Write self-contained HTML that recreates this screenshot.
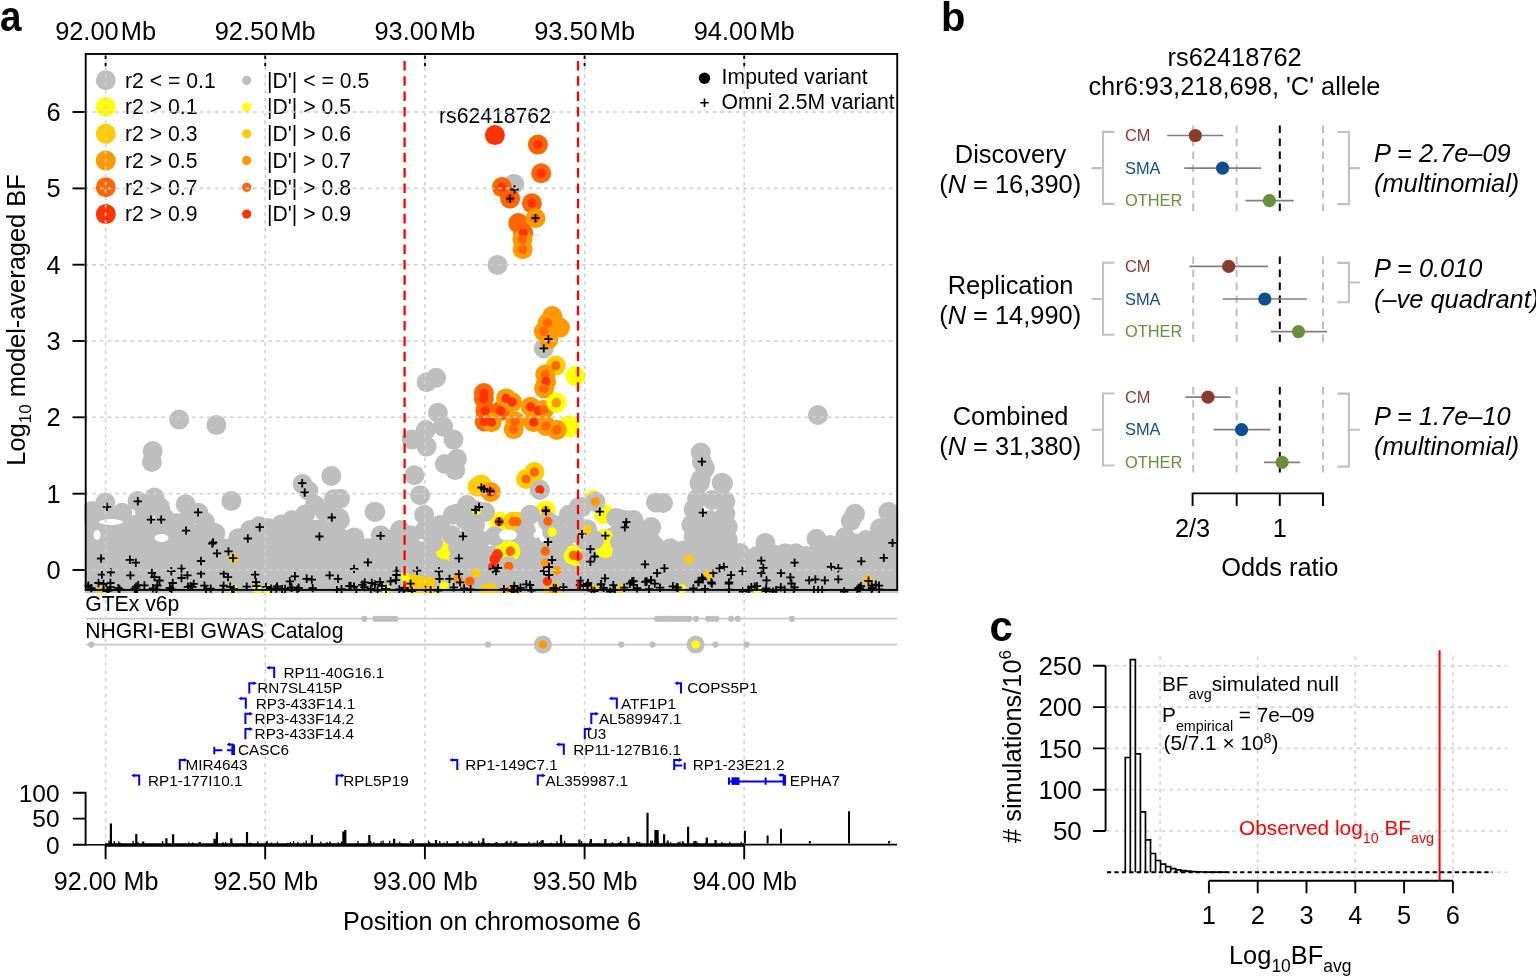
<!DOCTYPE html>
<html><head><meta charset="utf-8"><title>Figure</title>
<style>
html,body{margin:0;padding:0;background:#fff;}
svg{display:block;}
text{font-family:"Liberation Sans", Arial, Helvetica, sans-serif;fill:#000;}
</style></head><body>
<svg width="1536" height="977" viewBox="0 0 1536 977">
<rect width="1536" height="977" fill="#fff"/>

<text x="0" y="31" font-size="42" font-weight="bold" transform="translate(0,0) scale(0.92,1)">a</text>
<text x="105.6" y="39.5" font-size="25.4" text-anchor="middle">92.00&#8202;Mb</text>
<text x="265.2" y="39.5" font-size="25.4" text-anchor="middle">92.50&#8202;Mb</text>
<text x="424.9" y="39.5" font-size="25.4" text-anchor="middle">93.00&#8202;Mb</text>
<text x="584.6" y="39.5" font-size="25.4" text-anchor="middle">93.50&#8202;Mb</text>
<text x="744.2" y="39.5" font-size="25.4" text-anchor="middle">94.00&#8202;Mb</text>
<text transform="translate(25,320) rotate(-90)" font-size="25.4" text-anchor="middle">Log<tspan font-size="17" dy="6">10</tspan><tspan dy="-6"> model-averaged BF</tspan></text>
<line x1="72.5" y1="570.0" x2="86" y2="570.0" stroke="#000" stroke-width="1.9"/>
<text x="60.5" y="579.0" font-size="25.4" text-anchor="end">0</text>
<line x1="72.5" y1="493.7" x2="86" y2="493.7" stroke="#000" stroke-width="1.9"/>
<text x="60.5" y="502.7" font-size="25.4" text-anchor="end">1</text>
<line x1="72.5" y1="417.3" x2="86" y2="417.3" stroke="#000" stroke-width="1.9"/>
<text x="60.5" y="426.3" font-size="25.4" text-anchor="end">2</text>
<line x1="72.5" y1="341.0" x2="86" y2="341.0" stroke="#000" stroke-width="1.9"/>
<text x="60.5" y="350.0" font-size="25.4" text-anchor="end">3</text>
<line x1="72.5" y1="264.7" x2="86" y2="264.7" stroke="#000" stroke-width="1.9"/>
<text x="60.5" y="273.7" font-size="25.4" text-anchor="end">4</text>
<line x1="72.5" y1="188.4" x2="86" y2="188.4" stroke="#000" stroke-width="1.9"/>
<text x="60.5" y="197.4" font-size="25.4" text-anchor="end">5</text>
<line x1="72.5" y1="112.0" x2="86" y2="112.0" stroke="#000" stroke-width="1.9"/>
<text x="60.5" y="121.0" font-size="25.4" text-anchor="end">6</text>
<defs><clipPath id="pc"><rect x="84.5" y="55" width="813.8" height="538"/></clipPath></defs>
<g clip-path="url(#pc)">
<polygon points="86,514 100,518 120,518 140,514 160,522 176,526 190,522 200,527 215,537 240,541 260,530 280,527 300,520 320,520 340,524 355,539 380,538 410,538 433,545 452,538 470,538 480,546 500,546 530,541 545,546 560,541 580,546 600,532 620,523 640,526 655,531 670,549 690,546 700,512 725,512 730,541 740,555 765,548 790,558 816,543 835,548 850,532 870,537 888,518 897,518 899,595 84,595" fill="#bebebe"/>
<circle cx="444.8" cy="549.5" r="10.0" fill="#ffff00"/>
<circle cx="454.2" cy="553.0" r="10.0" fill="#ffff00"/>
<circle cx="604.1" cy="538.9" r="10.0" fill="#ffff00"/>
<circle cx="605.3" cy="548.3" r="10.0" fill="#ffff00"/>
<circle cx="579.4" cy="534.2" r="10.0" fill="#ffff00"/>
<circle cx="573.5" cy="555.3" r="10.0" fill="#ffff00"/>
<circle cx="604.1" cy="514.1" r="10.0" fill="#ffff00"/>
<circle cx="499.1" cy="521.7" r="10.0" fill="#ffff00"/>
<circle cx="513.0" cy="521.7" r="10.0" fill="#ffcc00"/>
<circle cx="516.8" cy="521.7" r="10.0" fill="#ffcc00"/>
<circle cx="545.8" cy="510.4" r="10.0" fill="#ffff00"/>
<circle cx="578.0" cy="556.6" r="10.0" fill="#ffff00"/>
<circle cx="593.0" cy="500.0" r="10.0" fill="#ffff00"/>
<circle cx="999.0" cy="999.0" r="10.0" fill="#ffff00"/>
<circle cx="497.0" cy="536.0" r="10.0" fill="#ffff00"/>
<circle cx="505.0" cy="545.0" r="10.0" fill="#ffff00"/>
<circle cx="152.7" cy="451.0" r="10.0" fill="#bebebe"/>
<circle cx="151.9" cy="462.0" r="10.0" fill="#bebebe"/>
<circle cx="179.2" cy="419.6" r="10.0" fill="#bebebe"/>
<circle cx="216.4" cy="425.1" r="10.0" fill="#bebebe"/>
<circle cx="331.3" cy="475.9" r="10.0" fill="#bebebe"/>
<circle cx="302.5" cy="484.0" r="10.0" fill="#bebebe"/>
<circle cx="308.4" cy="490.8" r="10.0" fill="#bebebe"/>
<circle cx="333.8" cy="499.2" r="10.0" fill="#bebebe"/>
<circle cx="231.4" cy="500.9" r="10.0" fill="#bebebe"/>
<circle cx="154.4" cy="497.5" r="10.0" fill="#bebebe"/>
<circle cx="137.5" cy="501.0" r="10.0" fill="#bebebe"/>
<circle cx="105.3" cy="502.6" r="10.0" fill="#bebebe"/>
<circle cx="91.8" cy="511.0" r="10.0" fill="#bebebe"/>
<circle cx="122.2" cy="512.8" r="10.0" fill="#bebebe"/>
<circle cx="185.7" cy="504.3" r="10.0" fill="#bebebe"/>
<circle cx="198.4" cy="512.8" r="10.0" fill="#bebebe"/>
<circle cx="164.6" cy="517.9" r="10.0" fill="#bebebe"/>
<circle cx="176.4" cy="523.0" r="10.0" fill="#bebebe"/>
<circle cx="215.3" cy="533.1" r="10.0" fill="#bebebe"/>
<circle cx="238.2" cy="538.2" r="10.0" fill="#bebebe"/>
<circle cx="259.3" cy="526.3" r="10.0" fill="#bebebe"/>
<circle cx="281.3" cy="524.6" r="10.0" fill="#bebebe"/>
<circle cx="305.0" cy="514.5" r="10.0" fill="#bebebe"/>
<circle cx="338.9" cy="517.9" r="10.0" fill="#bebebe"/>
<circle cx="89.0" cy="516.0" r="10.0" fill="#bebebe"/>
<circle cx="96.0" cy="528.0" r="10.0" fill="#bebebe"/>
<circle cx="106.0" cy="513.0" r="10.0" fill="#bebebe"/>
<circle cx="145.0" cy="512.0" r="10.0" fill="#bebebe"/>
<circle cx="160.0" cy="507.0" r="10.0" fill="#bebebe"/>
<circle cx="190.0" cy="515.0" r="10.0" fill="#bebebe"/>
<circle cx="205.0" cy="522.0" r="10.0" fill="#bebebe"/>
<circle cx="250.0" cy="530.0" r="10.0" fill="#bebebe"/>
<circle cx="268.0" cy="528.0" r="10.0" fill="#bebebe"/>
<circle cx="292.0" cy="520.0" r="10.0" fill="#bebebe"/>
<circle cx="315.0" cy="505.0" r="10.0" fill="#bebebe"/>
<circle cx="325.0" cy="512.0" r="10.0" fill="#bebebe"/>
<circle cx="320.0" cy="530.0" r="10.0" fill="#bebebe"/>
<circle cx="290.0" cy="535.0" r="10.0" fill="#bebebe"/>
<circle cx="270.0" cy="540.0" r="10.0" fill="#bebebe"/>
<circle cx="130.0" cy="530.0" r="10.0" fill="#bebebe"/>
<circle cx="150.0" cy="535.0" r="10.0" fill="#bebebe"/>
<circle cx="170.0" cy="532.0" r="10.0" fill="#bebebe"/>
<circle cx="185.0" cy="530.0" r="10.0" fill="#bebebe"/>
<circle cx="200.0" cy="535.0" r="10.0" fill="#bebebe"/>
<circle cx="245.0" cy="545.0" r="10.0" fill="#bebebe"/>
<circle cx="100.0" cy="540.0" r="10.0" fill="#bebebe"/>
<circle cx="115.0" cy="537.0" r="10.0" fill="#bebebe"/>
<circle cx="340.0" cy="520.0" r="10.0" fill="#bebebe"/>
<circle cx="330.0" cy="535.0" r="10.0" fill="#bebebe"/>
<circle cx="310.0" cy="540.0" r="10.0" fill="#bebebe"/>
<circle cx="296.0" cy="545.0" r="10.0" fill="#bebebe"/>
<circle cx="340.0" cy="498.8" r="10.0" fill="#bebebe"/>
<circle cx="374.7" cy="511.8" r="10.0" fill="#bebebe"/>
<circle cx="354.4" cy="537.4" r="10.0" fill="#bebebe"/>
<circle cx="395.8" cy="537.4" r="10.0" fill="#bebebe"/>
<circle cx="425.0" cy="530.0" r="10.0" fill="#bebebe"/>
<circle cx="440.0" cy="528.0" r="10.0" fill="#bebebe"/>
<circle cx="472.0" cy="524.0" r="10.0" fill="#bebebe"/>
<circle cx="380.6" cy="535.3" r="10.0" fill="#bebebe"/>
<circle cx="410.6" cy="535.3" r="10.0" fill="#bebebe"/>
<circle cx="433.0" cy="542.4" r="10.0" fill="#bebebe"/>
<circle cx="451.9" cy="535.3" r="10.0" fill="#bebebe"/>
<circle cx="420.1" cy="495.3" r="10.0" fill="#bebebe"/>
<circle cx="424.2" cy="514.7" r="10.0" fill="#bebebe"/>
<circle cx="453.0" cy="514.7" r="10.0" fill="#bebebe"/>
<circle cx="375.2" cy="511.9" r="10.0" fill="#bebebe"/>
<circle cx="414.4" cy="475.3" r="10.0" fill="#bebebe"/>
<circle cx="395.0" cy="540.0" r="10.0" fill="#bebebe"/>
<circle cx="440.0" cy="525.0" r="10.0" fill="#bebebe"/>
<circle cx="465.0" cy="520.0" r="10.0" fill="#bebebe"/>
<circle cx="470.0" cy="535.0" r="10.0" fill="#bebebe"/>
<circle cx="345.0" cy="540.0" r="10.0" fill="#bebebe"/>
<circle cx="400.0" cy="530.0" r="10.0" fill="#bebebe"/>
<circle cx="436.1" cy="377.8" r="10.0" fill="#bebebe"/>
<circle cx="426.6" cy="382.2" r="10.0" fill="#bebebe"/>
<circle cx="437.9" cy="412.7" r="10.0" fill="#bebebe"/>
<circle cx="443.1" cy="426.6" r="10.0" fill="#bebebe"/>
<circle cx="425.7" cy="430.0" r="10.0" fill="#bebebe"/>
<circle cx="453.5" cy="439.6" r="10.0" fill="#bebebe"/>
<circle cx="411.8" cy="439.6" r="10.0" fill="#bebebe"/>
<circle cx="426.6" cy="446.6" r="10.0" fill="#bebebe"/>
<circle cx="457.0" cy="458.8" r="10.0" fill="#bebebe"/>
<circle cx="444.8" cy="464.0" r="10.0" fill="#bebebe"/>
<circle cx="455.3" cy="470.1" r="10.0" fill="#bebebe"/>
<circle cx="457.1" cy="513.6" r="10.0" fill="#bebebe"/>
<circle cx="467.0" cy="505.0" r="10.0" fill="#bebebe"/>
<circle cx="485.0" cy="512.0" r="10.0" fill="#bebebe"/>
<circle cx="494.8" cy="536.2" r="10.0" fill="#bebebe"/>
<circle cx="530.2" cy="514.7" r="10.0" fill="#bebebe"/>
<circle cx="525.9" cy="530.8" r="10.0" fill="#bebebe"/>
<circle cx="531.3" cy="543.7" r="10.0" fill="#bebebe"/>
<circle cx="568.9" cy="514.7" r="10.0" fill="#bebebe"/>
<circle cx="578.6" cy="507.2" r="10.0" fill="#bebebe"/>
<circle cx="567.8" cy="535.1" r="10.0" fill="#bebebe"/>
<circle cx="539.8" cy="489.7" r="10.0" fill="#bebebe"/>
<circle cx="555.0" cy="525.0" r="10.0" fill="#bebebe"/>
<circle cx="558.0" cy="545.0" r="10.0" fill="#bebebe"/>
<circle cx="515.0" cy="540.0" r="10.0" fill="#bebebe"/>
<circle cx="480.0" cy="540.0" r="10.0" fill="#bebebe"/>
<circle cx="475.0" cy="525.0" r="10.0" fill="#bebebe"/>
<circle cx="520.0" cy="555.0" r="10.0" fill="#bebebe"/>
<circle cx="540.0" cy="560.0" r="10.0" fill="#bebebe"/>
<circle cx="497.5" cy="264.9" r="10.0" fill="#bebebe"/>
<circle cx="514.2" cy="183.9" r="10.0" fill="#bebebe"/>
<circle cx="543.8" cy="348.4" r="10.0" fill="#bebebe"/>
<circle cx="574.0" cy="520.0" r="10.0" fill="#bebebe"/>
<circle cx="585.0" cy="540.0" r="10.0" fill="#bebebe"/>
<circle cx="595.3" cy="501.8" r="10.0" fill="#bebebe"/>
<circle cx="581.8" cy="507.1" r="10.0" fill="#bebebe"/>
<circle cx="619.4" cy="518.9" r="10.0" fill="#bebebe"/>
<circle cx="633.6" cy="520.0" r="10.0" fill="#bebebe"/>
<circle cx="651.2" cy="527.1" r="10.0" fill="#bebebe"/>
<circle cx="670.1" cy="548.3" r="10.0" fill="#bebebe"/>
<circle cx="683.0" cy="550.6" r="10.0" fill="#bebebe"/>
<circle cx="655.9" cy="502.4" r="10.0" fill="#bebebe"/>
<circle cx="663.0" cy="503.0" r="10.0" fill="#bebebe"/>
<circle cx="625.8" cy="520.0" r="10.0" fill="#bebebe"/>
<circle cx="648.8" cy="530.4" r="10.0" fill="#bebebe"/>
<circle cx="652.9" cy="545.0" r="10.0" fill="#bebebe"/>
<circle cx="640.0" cy="535.0" r="10.0" fill="#bebebe"/>
<circle cx="700.8" cy="452.5" r="10.0" fill="#bebebe"/>
<circle cx="705.0" cy="468.1" r="10.0" fill="#bebebe"/>
<circle cx="700.8" cy="479.2" r="10.0" fill="#bebebe"/>
<circle cx="721.7" cy="482.7" r="10.0" fill="#bebebe"/>
<circle cx="699.5" cy="483.5" r="10.0" fill="#bebebe"/>
<circle cx="723.0" cy="483.5" r="10.0" fill="#bebebe"/>
<circle cx="697.1" cy="498.8" r="10.0" fill="#bebebe"/>
<circle cx="725.4" cy="501.2" r="10.0" fill="#bebebe"/>
<circle cx="693.6" cy="509.4" r="10.0" fill="#bebebe"/>
<circle cx="725.4" cy="514.1" r="10.0" fill="#bebebe"/>
<circle cx="691.3" cy="524.7" r="10.0" fill="#bebebe"/>
<circle cx="727.8" cy="527.1" r="10.0" fill="#bebebe"/>
<circle cx="693.6" cy="536.5" r="10.0" fill="#bebebe"/>
<circle cx="712.0" cy="500.0" r="10.0" fill="#bebebe"/>
<circle cx="710.0" cy="520.0" r="10.0" fill="#bebebe"/>
<circle cx="712.0" cy="540.0" r="10.0" fill="#bebebe"/>
<circle cx="701.9" cy="461.7" r="10.0" fill="#bebebe"/>
<circle cx="740.0" cy="553.0" r="10.0" fill="#bebebe"/>
<circle cx="765.4" cy="542.9" r="10.0" fill="#bebebe"/>
<circle cx="785.2" cy="553.3" r="10.0" fill="#bebebe"/>
<circle cx="795.6" cy="553.3" r="10.0" fill="#bebebe"/>
<circle cx="816.5" cy="538.8" r="10.0" fill="#bebebe"/>
<circle cx="855.0" cy="513.8" r="10.0" fill="#bebebe"/>
<circle cx="850.8" cy="521.0" r="10.0" fill="#bebebe"/>
<circle cx="888.3" cy="511.7" r="10.0" fill="#bebebe"/>
<circle cx="880.0" cy="528.3" r="10.0" fill="#bebebe"/>
<circle cx="817.9" cy="415.0" r="10.0" fill="#bebebe"/>
<circle cx="830.0" cy="545.0" r="10.0" fill="#bebebe"/>
<circle cx="845.0" cy="537.0" r="10.0" fill="#bebebe"/>
<circle cx="866.0" cy="540.0" r="10.0" fill="#bebebe"/>
<circle cx="870.0" cy="548.0" r="10.0" fill="#bebebe"/>
<circle cx="895.0" cy="520.0" r="10.0" fill="#bebebe"/>
<circle cx="892.0" cy="535.0" r="10.0" fill="#bebebe"/>
<circle cx="752.0" cy="560.0" r="10.0" fill="#bebebe"/>
<circle cx="757.0" cy="556.0" r="10.0" fill="#bebebe"/>
<circle cx="776.0" cy="555.0" r="10.0" fill="#bebebe"/>
<circle cx="806.0" cy="556.0" r="10.0" fill="#bebebe"/>
<circle cx="840.0" cy="550.0" r="10.0" fill="#bebebe"/>
<circle cx="860.0" cy="548.0" r="10.0" fill="#bebebe"/>
<circle cx="728.0" cy="540.0" r="10.0" fill="#bebebe"/>
<circle cx="458.0" cy="547.0" r="10.0" fill="#bebebe"/>
<circle cx="467.0" cy="558.0" r="10.0" fill="#bebebe"/>
<circle cx="620.0" cy="542.0" r="10.0" fill="#bebebe"/>
<circle cx="622.0" cy="553.0" r="10.0" fill="#bebebe"/>
<circle cx="594.0" cy="540.0" r="10.0" fill="#bebebe"/>
<circle cx="588.0" cy="559.0" r="10.0" fill="#bebebe"/>
<circle cx="616.0" cy="518.0" r="10.0" fill="#bebebe"/>
<circle cx="522.0" cy="552.0" r="10.0" fill="#bebebe"/>
<circle cx="494.9" cy="135.1" r="10.0" fill="#ff3300"/>
<circle cx="537.9" cy="144.6" r="10.0" fill="#ff6600"/>
<circle cx="541.2" cy="173.2" r="10.0" fill="#ff6600"/>
<circle cx="501.9" cy="187.1" r="10.0" fill="#ff6600"/>
<circle cx="510.1" cy="198.6" r="10.0" fill="#ff6600"/>
<circle cx="531.9" cy="203.2" r="10.0" fill="#ff6600"/>
<circle cx="518.3" cy="223.1" r="10.0" fill="#ff6600"/>
<circle cx="535.5" cy="218.2" r="10.0" fill="#ff9900"/>
<circle cx="523.2" cy="233.0" r="10.0" fill="#ff6600"/>
<circle cx="522.4" cy="239.5" r="10.0" fill="#ff9900"/>
<circle cx="522.7" cy="249.3" r="10.0" fill="#ff9900"/>
<circle cx="552.2" cy="316.1" r="10.0" fill="#ff9900"/>
<circle cx="559.9" cy="327.6" r="10.0" fill="#ff9900"/>
<circle cx="547.6" cy="323.0" r="10.0" fill="#ff9900"/>
<circle cx="543.8" cy="331.5" r="10.0" fill="#ff9900"/>
<circle cx="548.4" cy="339.2" r="10.0" fill="#ff9900"/>
<circle cx="555.8" cy="365.6" r="10.0" fill="#ffcc00"/>
<circle cx="575.3" cy="376.0" r="10.0" fill="#ffff00"/>
<circle cx="545.3" cy="374.5" r="10.0" fill="#ff9900"/>
<circle cx="546.1" cy="381.4" r="10.0" fill="#ff9900"/>
<circle cx="544.1" cy="388.4" r="10.0" fill="#ff9900"/>
<circle cx="556.1" cy="402.9" r="10.0" fill="#ffff00"/>
<circle cx="569.1" cy="425.2" r="10.0" fill="#ffff00"/>
<circle cx="569.0" cy="427.6" r="10.0" fill="#ffff00"/>
<circle cx="483.8" cy="393.0" r="10.0" fill="#ff6600"/>
<circle cx="483.8" cy="398.4" r="10.0" fill="#ff6600"/>
<circle cx="485.3" cy="410.7" r="10.0" fill="#ff6600"/>
<circle cx="500.7" cy="410.7" r="10.0" fill="#ff6600"/>
<circle cx="484.6" cy="421.4" r="10.0" fill="#ff6600"/>
<circle cx="491.5" cy="422.2" r="10.0" fill="#ff9900"/>
<circle cx="506.0" cy="398.4" r="10.0" fill="#ff9900"/>
<circle cx="512.2" cy="402.2" r="10.0" fill="#ff9900"/>
<circle cx="515.3" cy="421.4" r="10.0" fill="#ff9900"/>
<circle cx="513.7" cy="429.1" r="10.0" fill="#ff9900"/>
<circle cx="530.6" cy="406.8" r="10.0" fill="#ff9900"/>
<circle cx="538.3" cy="410.7" r="10.0" fill="#ff9900"/>
<circle cx="543.7" cy="409.9" r="10.0" fill="#ff9900"/>
<circle cx="533.7" cy="422.2" r="10.0" fill="#ff9900"/>
<circle cx="546.0" cy="426.0" r="10.0" fill="#ff9900"/>
<circle cx="556.7" cy="429.9" r="10.0" fill="#ff9900"/>
<circle cx="556.4" cy="402.5" r="10.0" fill="#ffff00"/>
<circle cx="534.4" cy="472.1" r="10.0" fill="#ffcc00"/>
<circle cx="526.0" cy="479.0" r="10.0" fill="#ffcc00"/>
<circle cx="539.8" cy="489.7" r="10.0" fill="#bebebe"/>
<circle cx="477.7" cy="486.7" r="10.0" fill="#ffcc00"/>
<circle cx="481.5" cy="484.5" r="10.0" fill="#ffcc00"/>
<circle cx="490.7" cy="492.0" r="10.0" fill="#ff9900"/>
<circle cx="476.5" cy="510.4" r="10.0" fill="#bebebe"/>
<circle cx="547.9" cy="521.2" r="10.0" fill="#bebebe"/>
<circle cx="552.2" cy="531.9" r="10.0" fill="#bebebe"/>
<circle cx="510.3" cy="551.2" r="10.0" fill="#ffff00"/>
<circle cx="510.3" cy="551.2" r="10.0" fill="#ffff00"/>
<circle cx="492.6" cy="566.8" r="10.0" fill="#bebebe"/>
<circle cx="508.7" cy="566.3" r="10.0" fill="#bebebe"/>
<circle cx="545.3" cy="551.2" r="10.0" fill="#bebebe"/>
<circle cx="545.3" cy="563.1" r="10.0" fill="#bebebe"/>
<circle cx="557.1" cy="570.6" r="10.0" fill="#bebebe"/>
<circle cx="547.4" cy="581.3" r="10.0" fill="#bebebe"/>
<circle cx="587.2" cy="529.2" r="10.0" fill="#bebebe"/>
<circle cx="595.3" cy="501.8" r="10.0" fill="#bebebe"/>
<circle cx="470.0" cy="581.3" r="10.0" fill="#bebebe"/>
<circle cx="476.0" cy="572.7" r="10.0" fill="#bebebe"/>
<circle cx="458.2" cy="579.2" r="10.0" fill="#bebebe"/>
<circle cx="587.1" cy="530.0" r="10.0" fill="#bebebe"/>
<circle cx="688.9" cy="559.5" r="10.0" fill="#bebebe"/>
<circle cx="708.3" cy="574.8" r="10.0" fill="#bebebe"/>
<circle cx="233.6" cy="558.5" r="10.0" fill="#bebebe"/>
<circle cx="458.9" cy="558.3" r="10.0" fill="#bebebe"/>
<circle cx="405.3" cy="577.1" r="10.0" fill="#bebebe"/>
<circle cx="413.0" cy="584.0" r="10.0" fill="#ffcc00"/>
<circle cx="421.0" cy="586.0" r="10.0" fill="#ffcc00"/>
<circle cx="429.0" cy="587.0" r="10.0" fill="#ffcc00"/>
<circle cx="444.2" cy="586.0" r="10.0" fill="#bebebe"/>
<circle cx="386.0" cy="589.0" r="10.0" fill="#bebebe"/>
<circle cx="457.7" cy="578.9" r="10.0" fill="#bebebe"/>
<circle cx="469.5" cy="581.3" r="10.0" fill="#bebebe"/>
<circle cx="620.6" cy="588.8" r="10.0" fill="#bebebe"/>
<circle cx="682.1" cy="588.8" r="10.0" fill="#bebebe"/>
<circle cx="757.1" cy="588.8" r="10.0" fill="#bebebe"/>
<circle cx="868.1" cy="580.0" r="10.0" fill="#bebebe"/>
<circle cx="101.1" cy="589.8" r="10.0" fill="#bebebe"/>
<circle cx="257.6" cy="589.0" r="10.0" fill="#bebebe"/>
<circle cx="267.8" cy="589.0" r="10.0" fill="#bebebe"/>
<circle cx="233.0" cy="589.0" r="10.0" fill="#bebebe"/>
<circle cx="489.0" cy="593.0" r="10.0" fill="#ffcc00"/>
<circle cx="512.0" cy="595.0" r="10.0" fill="#ff9900"/>
<circle cx="553.0" cy="592.0" r="10.0" fill="#ffcc00"/>
<circle cx="595.0" cy="589.0" r="10.0" fill="#bebebe"/>
<circle cx="573.5" cy="555.3" r="4.6" fill="#ff6600"/>
<circle cx="499.1" cy="521.7" r="4.6" fill="#ff3300"/>
<circle cx="513.0" cy="521.7" r="4.6" fill="#ff6600"/>
<circle cx="516.8" cy="521.7" r="4.6" fill="#ff6600"/>
<circle cx="545.8" cy="510.4" r="4.6" fill="#ff9900"/>
<circle cx="578.0" cy="556.6" r="4.6" fill="#ff6600"/>
<circle cx="537.9" cy="144.6" r="4.6" fill="#ff3300"/>
<circle cx="541.2" cy="173.2" r="4.6" fill="#ff3300"/>
<circle cx="501.9" cy="187.1" r="4.6" fill="#ff3300"/>
<circle cx="510.1" cy="198.6" r="4.6" fill="#ff3300"/>
<circle cx="531.9" cy="203.2" r="4.6" fill="#ff3300"/>
<circle cx="535.5" cy="218.2" r="4.6" fill="#ff6600"/>
<circle cx="523.2" cy="233.0" r="4.6" fill="#ff3300"/>
<circle cx="522.4" cy="239.5" r="4.6" fill="#ff6600"/>
<circle cx="522.7" cy="249.3" r="4.6" fill="#ff6600"/>
<circle cx="547.6" cy="323.0" r="4.6" fill="#ff6600"/>
<circle cx="543.8" cy="331.5" r="4.6" fill="#ff6600"/>
<circle cx="555.8" cy="365.6" r="4.6" fill="#ff6600"/>
<circle cx="545.3" cy="374.5" r="4.6" fill="#ff6600"/>
<circle cx="546.1" cy="381.4" r="4.6" fill="#ff3300"/>
<circle cx="544.1" cy="388.4" r="4.6" fill="#ff6600"/>
<circle cx="556.1" cy="402.9" r="4.6" fill="#ff9900"/>
<circle cx="483.8" cy="393.0" r="4.6" fill="#ff3300"/>
<circle cx="483.8" cy="398.4" r="4.6" fill="#ff3300"/>
<circle cx="485.3" cy="410.7" r="4.6" fill="#ff3300"/>
<circle cx="500.7" cy="410.7" r="4.6" fill="#ff3300"/>
<circle cx="484.6" cy="421.4" r="4.6" fill="#ff3300"/>
<circle cx="491.5" cy="422.2" r="4.6" fill="#ff3300"/>
<circle cx="506.0" cy="398.4" r="4.6" fill="#ff3300"/>
<circle cx="512.2" cy="402.2" r="4.6" fill="#ff3300"/>
<circle cx="515.3" cy="421.4" r="4.6" fill="#ff6600"/>
<circle cx="513.7" cy="429.1" r="4.6" fill="#ff6600"/>
<circle cx="530.6" cy="406.8" r="4.6" fill="#ff3300"/>
<circle cx="538.3" cy="410.7" r="4.6" fill="#ff3300"/>
<circle cx="543.7" cy="409.9" r="4.6" fill="#ff6600"/>
<circle cx="533.7" cy="422.2" r="4.6" fill="#ff3300"/>
<circle cx="546.0" cy="426.0" r="4.6" fill="#ff6600"/>
<circle cx="556.7" cy="429.9" r="4.6" fill="#ff6600"/>
<circle cx="556.4" cy="402.5" r="4.6" fill="#ff9900"/>
<circle cx="534.4" cy="472.1" r="4.6" fill="#ff6600"/>
<circle cx="526.0" cy="479.0" r="4.6" fill="#ff6600"/>
<circle cx="539.8" cy="489.7" r="4.6" fill="#ff3300"/>
<circle cx="490.7" cy="492.0" r="4.6" fill="#ff3300"/>
<circle cx="476.5" cy="510.4" r="4.6" fill="#ffff00"/>
<circle cx="547.9" cy="521.2" r="4.6" fill="#ff6600"/>
<circle cx="552.2" cy="531.9" r="4.6" fill="#ffff00"/>
<circle cx="510.3" cy="551.2" r="4.6" fill="#ff6600"/>
<circle cx="510.3" cy="551.2" r="4.6" fill="#ff6600"/>
<circle cx="497.4" cy="554.5" r="5.3999999999999995" fill="#ff3300"/>
<circle cx="494.8" cy="558.8" r="5.3999999999999995" fill="#ff3300"/>
<circle cx="492.6" cy="566.8" r="4.6" fill="#ff3300"/>
<circle cx="508.7" cy="566.3" r="4.6" fill="#ff6600"/>
<circle cx="545.3" cy="551.2" r="4.6" fill="#ff6600"/>
<circle cx="545.3" cy="563.1" r="4.6" fill="#ff9900"/>
<circle cx="557.1" cy="570.6" r="4.6" fill="#ff9900"/>
<circle cx="547.4" cy="581.3" r="4.6" fill="#ff3300"/>
<circle cx="587.2" cy="529.2" r="4.6" fill="#ffcc00"/>
<circle cx="595.3" cy="501.8" r="4.6" fill="#ff9900"/>
<circle cx="470.0" cy="581.3" r="4.6" fill="#ff6600"/>
<circle cx="476.0" cy="572.7" r="4.6" fill="#ffcc00"/>
<circle cx="458.2" cy="579.2" r="4.6" fill="#ff9900"/>
<circle cx="587.1" cy="530.0" r="4.6" fill="#ffcc00"/>
<circle cx="688.9" cy="559.5" r="4.6" fill="#ffcc00"/>
<circle cx="708.3" cy="574.8" r="4.6" fill="#ffcc00"/>
<circle cx="233.6" cy="558.5" r="4.6" fill="#ffcc00"/>
<circle cx="405.3" cy="577.1" r="4.6" fill="#ffff00"/>
<circle cx="444.2" cy="586.0" r="4.6" fill="#ffff00"/>
<circle cx="386.0" cy="589.0" r="4.6" fill="#ffff00"/>
<circle cx="457.7" cy="578.9" r="4.6" fill="#ff9900"/>
<circle cx="469.5" cy="581.3" r="4.6" fill="#ff6600"/>
<circle cx="620.6" cy="588.8" r="4.6" fill="#ffcc00"/>
<circle cx="682.1" cy="588.8" r="4.6" fill="#ffff00"/>
<circle cx="757.1" cy="588.8" r="4.6" fill="#ffff00"/>
<circle cx="868.1" cy="580.0" r="4.6" fill="#ffcc00"/>
<circle cx="101.1" cy="589.8" r="4.6" fill="#ffcc00"/>
<circle cx="257.6" cy="589.0" r="4.6" fill="#ffff00"/>
<circle cx="267.8" cy="589.0" r="4.6" fill="#ffff00"/>
<circle cx="233.0" cy="589.0" r="4.6" fill="#ffff00"/>
<circle cx="512.0" cy="595.0" r="4.6" fill="#ffcc00"/>
<circle cx="553.0" cy="592.0" r="4.6" fill="#ff9900"/>
<circle cx="595.0" cy="589.0" r="4.6" fill="#ffcc00"/>
<ellipse cx="97" cy="535" rx="3.5" ry="5" fill="#fff"/>
<ellipse cx="111" cy="522" rx="12" ry="3" fill="#fff"/>
<ellipse cx="161.5" cy="538" rx="7" ry="4" fill="#fff"/>
<ellipse cx="508" cy="535" rx="9" ry="5.5" fill="#fff"/>
<ellipse cx="536" cy="535" rx="2.5" ry="3" fill="#fff"/>
<path d="M102.8 506.9h8.4M107.0 502.7v8.4M133.6 501.3h8.4M137.8 497.1v8.4M146.8 519.6h8.4M151.0 515.4v8.4M157.0 519.6h8.4M161.2 515.4v8.4M193.9 512.4h8.4M198.1 508.2v8.4M181.8 530.6h8.4M186.0 526.4v8.4M208.9 542.4h8.4M213.1 538.2v8.4M208.1 543.6h8.4M212.3 539.4v8.4M212.8 553.4h8.4M217.0 549.2v8.4M224.3 551.4h8.4M228.5 547.2v8.4M228.9 558.1h8.4M233.1 553.9v8.4M196.8 561.0h8.4M201.0 556.8v8.4M243.6 538.5h8.4M247.8 534.3v8.4M255.5 527.2h8.4M259.7 523.0v8.4M298.0 483.2h8.4M302.2 479.0v8.4M300.5 492.5h8.4M304.7 488.3v8.4M327.6 517.5h8.4M331.8 513.3v8.4M315.2 536.5h8.4M319.4 532.3v8.4M96.9 558.5h8.4M101.1 554.3v8.4M125.7 559.8h8.4M129.9 555.6v8.4M131.6 562.7h8.4M135.8 558.5v8.4M196.8 573.7h8.4M201.0 569.5v8.4M97.7 574.6h8.4M101.9 570.4v8.4M106.5 572.4h8.4M110.7 568.2v8.4M126.2 575.4h8.4M130.4 571.2v8.4M147.7 572.9h8.4M151.9 568.7v8.4M150.2 577.1h8.4M154.4 572.9v8.4M155.3 580.5h8.4M159.5 576.3v8.4M167.1 571.2h8.4M171.3 567.0v8.4M177.3 568.6h8.4M181.5 564.4v8.4M177.3 578.0h8.4M181.5 573.8v8.4M183.2 575.4h8.4M187.4 571.2v8.4M168.5 583.0h8.4M172.7 578.8v8.4M219.6 573.7h8.4M223.8 569.5v8.4M223.8 577.1h8.4M228.0 572.9v8.4M250.9 574.6h8.4M255.1 570.4v8.4M251.8 582.2h8.4M256.0 578.0v8.4M290.7 576.3h8.4M294.9 572.1v8.4M285.6 581.3h8.4M289.8 577.1v8.4M302.5 578.8h8.4M306.7 574.6v8.4M307.6 579.6h8.4M311.8 575.4v8.4M325.4 575.4h8.4M329.6 571.2v8.4M333.8 578.8h8.4M338.0 574.6v8.4M84.2 585.6h8.4M88.4 581.4v8.4M94.3 583.0h8.4M98.5 578.8v8.4M99.4 583.9h8.4M103.6 579.7v8.4M106.2 583.0h8.4M110.4 578.8v8.4M272.9 586.4h8.4M277.1 582.2v8.4M376.4 535.9h8.4M380.6 531.7v8.4M458.8 536.3h8.4M463.0 532.1v8.4M363.7 562.4h8.4M367.9 558.2v8.4M349.9 568.9h8.4M354.1 564.7v8.4M392.3 570.7h8.4M396.5 566.5v8.4M412.9 570.7h8.4M417.1 566.5v8.4M434.7 571.3h8.4M438.9 567.1v8.4M454.7 558.3h8.4M458.9 554.1v8.4M454.7 574.2h8.4M458.9 570.0v8.4M455.9 582.4h8.4M460.1 578.2v8.4M435.3 578.9h8.4M439.5 574.7v8.4M445.3 578.9h8.4M449.5 574.7v8.4M406.4 583.6h8.4M410.6 579.4v8.4M346.4 586.0h8.4M350.6 581.8v8.4M360.5 582.4h8.4M364.7 578.2v8.4M367.6 583.0h8.4M371.8 578.8v8.4M375.8 581.8h8.4M380.0 577.6v8.4M386.4 581.3h8.4M390.6 577.1v8.4M391.7 580.1h8.4M395.9 575.9v8.4M392.3 575.0h8.4M396.5 570.8v8.4M510.3 189.5h8.4M514.5 185.3v8.4M505.9 198.6h8.4M510.1 194.4v8.4M531.3 218.2h8.4M535.5 214.0v8.4M544.2 339.2h8.4M548.4 335.0v8.4M539.6 348.4h8.4M543.8 344.2v8.4M477.2 487.5h8.4M481.4 483.3v8.4M479.8 489.0h8.4M484.0 484.8v8.4M485.9 491.0h8.4M490.1 486.8v8.4M471.8 510.0h8.4M476.0 505.8v8.4M474.8 507.0h8.4M479.0 502.8v8.4M494.9 521.7h8.4M499.1 517.5v8.4M541.6 510.4h8.4M545.8 506.2v8.4M541.8 511.2h8.4M546.0 507.0v8.4M471.1 509.7h8.4M475.3 505.5v8.4M543.8 542.0h8.4M548.0 537.8v8.4M488.8 569.0h8.4M493.0 564.8v8.4M491.8 571.0h8.4M496.0 566.8v8.4M493.8 568.0h8.4M498.0 563.8v8.4M539.8 571.0h8.4M544.0 566.8v8.4M544.8 567.0h8.4M549.0 562.8v8.4M547.8 560.0h8.4M552.0 555.8v8.4M544.8 575.0h8.4M549.0 570.8v8.4M575.8 585.0h8.4M580.0 580.8v8.4M583.8 583.0h8.4M588.0 578.8v8.4M697.7 461.7h8.4M701.9 457.5v8.4M698.7 512.7h8.4M702.9 508.5v8.4M595.6 511.7h8.4M599.8 507.5v8.4M622.1 522.1h8.4M626.3 517.9v8.4M620.6 527.3h8.4M624.8 523.1v8.4M601.2 535.6h8.4M605.4 531.4v8.4M577.8 534.2h8.4M582.0 530.0v8.4M586.2 549.2h8.4M590.4 545.0v8.4M590.4 556.5h8.4M594.6 552.3v8.4M586.2 561.7h8.4M590.4 557.5v8.4M640.8 564.4h8.4M645.0 560.2v8.4M660.2 568.3h8.4M664.4 564.1v8.4M652.9 573.1h8.4M657.1 568.9v8.4M719.6 566.9h8.4M723.8 562.7v8.4M715.4 568.3h8.4M719.6 564.1v8.4M709.1 573.1h8.4M713.3 568.9v8.4M726.8 575.2h8.4M731.0 571.0v8.4M738.3 571.0h8.4M742.5 566.8v8.4M757.1 560.6h8.4M761.3 556.4v8.4M759.1 567.9h8.4M763.3 563.7v8.4M757.1 573.1h8.4M761.3 568.9v8.4M762.3 580.4h8.4M766.5 576.2v8.4M790.4 562.7h8.4M794.6 558.5v8.4M776.8 573.1h8.4M781.0 568.9v8.4M786.2 577.3h8.4M790.4 573.1v8.4M787.3 583.5h8.4M791.5 579.3v8.4M826.8 566.9h8.4M831.0 562.7v8.4M834.1 568.3h8.4M838.3 564.1v8.4M834.1 579.4h8.4M838.3 575.2v8.4M811.2 579.4h8.4M815.4 575.2v8.4M805.0 580.4h8.4M809.2 576.2v8.4M820.6 580.4h8.4M824.8 576.2v8.4M857.1 561.3h8.4M861.3 557.1v8.4M879.6 557.9h8.4M883.8 553.7v8.4M888.3 542.9h8.4M892.5 538.7v8.4M864.3 580.8h8.4M868.5 576.6v8.4M867.5 585.6h8.4M871.7 581.4v8.4M600.8 578.3h8.4M605.0 574.1v8.4M583.1 585.6h8.4M587.3 581.4v8.4M596.6 584.6h8.4M600.8 580.4v8.4M627.9 581.5h8.4M632.1 577.3v8.4M642.5 581.5h8.4M646.7 577.3v8.4M646.6 580.4h8.4M650.8 576.2v8.4M694.6 581.5h8.4M698.8 577.3v8.4M698.7 579.4h8.4M702.9 575.2v8.4M707.1 582.5h8.4M711.3 578.3v8.4M724.8 582.5h8.4M729.0 578.3v8.4M576.4 580.7h8.4M580.6 576.5v8.4M583.5 584.8h8.4M587.7 580.6v8.4M597.0 584.2h8.4M601.2 580.0v8.4M629.4 581.2h8.4M633.6 577.0v8.4M625.8 583.6h8.4M630.0 579.4v8.4M641.1 581.8h8.4M645.3 577.6v8.4M647.0 580.1h8.4M651.2 575.9v8.4M650.6 583.6h8.4M654.8 579.4v8.4M697.7 577.7h8.4M701.9 573.5v8.4M694.1 582.4h8.4M698.3 578.2v8.4M707.7 583.6h8.4M711.9 579.4v8.4M724.7 583.6h8.4M728.9 579.4v8.4M620.0 587.7h8.4M624.2 583.5v8.4M655.9 587.7h8.4M660.1 583.5v8.4M673.5 587.7h8.4M677.7 583.5v8.4M345.1 586.1h8.4M349.3 581.9v8.4M609.1 585.1h8.4M613.3 580.9v8.4M516.3 587.8h8.4M520.5 583.6v8.4M130.6 588.7h8.4M134.8 584.5v8.4M114.1 588.2h8.4M118.3 584.0v8.4M140.2 585.4h8.4M144.4 581.2v8.4M426.4 590.2h8.4M430.6 586.0v8.4M183.7 586.8h8.4M187.9 582.6v8.4M590.1 591.0h8.4M594.3 586.8v8.4M549.5 588.0h8.4M553.7 583.8v8.4M871.6 584.7h8.4M875.8 580.5v8.4M776.6 587.3h8.4M780.8 583.1v8.4M200.2 585.7h8.4M204.4 581.5v8.4M332.7 590.2h8.4M336.9 586.0v8.4M229.6 589.1h8.4M233.8 584.9v8.4M599.4 587.8h8.4M603.6 583.6v8.4M525.8 585.0h8.4M530.0 580.8v8.4M131.9 586.6h8.4M136.1 582.4v8.4M632.9 588.2h8.4M637.1 584.0v8.4M337.3 589.1h8.4M341.5 584.9v8.4M449.5 587.3h8.4M453.7 583.1v8.4M724.9 589.6h8.4M729.1 585.4v8.4M280.8 589.0h8.4M285.0 584.8v8.4M507.6 590.5h8.4M511.8 586.3v8.4M672.5 587.3h8.4M676.7 583.1v8.4M874.8 585.7h8.4M879.0 581.5v8.4M421.2 589.9h8.4M425.4 585.7v8.4M206.5 588.6h8.4M210.7 584.4v8.4M115.4 589.5h8.4M119.6 585.3v8.4M700.8 589.0h8.4M705.0 584.8v8.4M790.3 587.4h8.4M794.5 583.2v8.4M644.9 589.1h8.4M649.1 584.9v8.4M551.8 588.4h8.4M556.0 584.2v8.4M761.7 591.0h8.4M765.9 586.8v8.4M466.4 589.5h8.4M470.6 585.3v8.4M132.8 589.6h8.4M137.0 585.4v8.4M606.0 591.6h8.4M610.2 587.4v8.4M747.1 587.2h8.4M751.3 583.0v8.4M395.1 589.5h8.4M399.3 585.3v8.4M102.0 588.4h8.4M106.2 584.2v8.4M219.4 585.7h8.4M223.6 581.5v8.4M131.4 590.0h8.4M135.6 585.8v8.4M188.2 586.9h8.4M192.4 582.7v8.4M399.3 590.5h8.4M403.5 586.3v8.4M148.8 588.3h8.4M153.0 584.1v8.4M527.2 590.6h8.4M531.4 586.4v8.4M745.0 590.4h8.4M749.2 586.2v8.4M308.5 588.1h8.4M312.7 583.9v8.4M373.3 590.6h8.4M377.5 586.4v8.4M856.7 586.1h8.4M860.9 581.9v8.4M226.0 586.8h8.4M230.2 582.6v8.4M272.1 588.5h8.4M276.3 584.3v8.4M559.2 587.1h8.4M563.4 582.9v8.4M87.1 588.1h8.4M91.3 583.9v8.4M381.8 589.0h8.4M386.0 584.8v8.4M853.0 589.6h8.4M857.2 585.4v8.4M499.8 589.2h8.4M504.0 585.0v8.4M629.5 584.8h8.4M633.7 580.6v8.4M809.7 590.0h8.4M813.9 585.8v8.4M789.5 590.1h8.4M793.7 585.9v8.4M400.4 588.0h8.4M404.6 583.8v8.4M167.4 589.3h8.4M171.6 585.1v8.4M134.0 585.1h8.4M138.2 580.9v8.4M252.3 586.2h8.4M256.5 582.0v8.4M358.2 584.8h8.4M362.4 580.6v8.4M84.0 586.1h8.4M88.2 581.9v8.4M165.7 587.8h8.4M169.9 583.6v8.4M104.4 590.5h8.4M108.6 586.3v8.4M579.4 586.1h8.4M583.6 581.9v8.4M287.4 587.7h8.4M291.6 583.5v8.4M377.7 585.8h8.4M381.9 581.6v8.4M768.9 591.6h8.4M773.1 587.4v8.4M459.9 588.5h8.4M464.1 584.3v8.4M153.1 585.5h8.4M157.3 581.3v8.4M360.3 587.1h8.4M364.5 582.9v8.4M752.7 586.2h8.4M756.9 582.0v8.4M102.4 591.1h8.4M106.6 586.9v8.4M510.1 586.0h8.4M514.3 581.8v8.4M522.1 584.3h8.4M526.3 580.1v8.4M510.0 591.4h8.4M514.2 587.2v8.4M780.5 589.6h8.4M784.7 585.4v8.4M294.5 587.8h8.4M298.7 583.6v8.4M218.6 590.0h8.4M222.8 585.8v8.4M513.6 590.0h8.4M517.8 585.8v8.4M349.8 586.7h8.4M354.0 582.5v8.4M738.7 591.5h8.4M742.9 587.3v8.4M771.9 590.1h8.4M776.1 585.9v8.4M744.2 589.8h8.4M748.4 585.6v8.4M266.8 588.7h8.4M271.0 584.5v8.4M370.7 584.4h8.4M374.9 580.2v8.4M106.3 587.2h8.4M110.5 583.0v8.4M293.0 589.6h8.4M297.2 585.4v8.4M855.7 588.3h8.4M859.9 584.1v8.4M840.0 591.5h8.4M844.2 587.3v8.4M854.5 587.8h8.4M858.7 583.6v8.4M261.7 586.8h8.4M265.9 582.6v8.4M242.5 586.6h8.4M246.7 582.4v8.4M587.4 590.7h8.4M591.6 586.5v8.4M762.0 588.5h8.4M766.2 584.3v8.4M610.8 590.1h8.4M615.0 585.9v8.4M152.2 589.5h8.4M156.4 585.3v8.4M818.0 590.0h8.4M822.2 585.8v8.4M689.2 588.5h8.4M693.4 584.3v8.4M227.9 590.1h8.4M232.1 585.9v8.4M352.1 590.1h8.4M356.3 585.9v8.4M867.9 588.0h8.4M872.1 583.8v8.4M407.7 591.0h8.4M411.9 586.8v8.4M668.7 586.3h8.4M672.9 582.1v8.4M186.3 586.1h8.4M190.5 581.9v8.4M814.0 590.1h8.4M818.2 585.9v8.4M201.8 590.2h8.4M206.0 586.0v8.4M874.9 589.4h8.4M879.1 585.2v8.4M366.6 588.9h8.4M370.8 584.7v8.4M189.5 583.9h8.4M193.7 579.7v8.4M867.3 589.4h8.4M871.5 585.2v8.4M508.8 590.9h8.4M513.0 586.7v8.4M433.9 590.5h8.4M438.1 586.3v8.4M750.5 586.6h8.4M754.7 582.4v8.4M287.0 587.3h8.4M291.2 583.1v8.4M277.9 589.1h8.4M282.1 584.9v8.4" stroke="#000" stroke-width="1.8" fill="none"/>
</g>
<circle cx="105.8" cy="80.3" r="10" fill="#bebebe"/>
<text x="125" y="87.6" font-size="21.2">r2 &lt; = 0.1</text>
<circle cx="246.7" cy="80.3" r="4.6" fill="#bebebe"/>
<text x="267" y="87.6" font-size="21.2">|D'| &lt; = 0.5</text>
<circle cx="105.8" cy="107.0" r="10" fill="#ffff00"/>
<text x="125" y="114.3" font-size="21.2">r2 &gt; 0.1</text>
<circle cx="246.7" cy="107.0" r="4.6" fill="#ffff00"/>
<text x="267" y="114.3" font-size="21.2">|D'| &gt; 0.5</text>
<circle cx="105.8" cy="133.8" r="10" fill="#ffcc00"/>
<text x="125" y="141.1" font-size="21.2">r2 &gt; 0.3</text>
<circle cx="246.7" cy="133.8" r="4.6" fill="#ffcc00"/>
<text x="267" y="141.1" font-size="21.2">|D'| &gt; 0.6</text>
<circle cx="105.8" cy="160.6" r="10" fill="#ff9900"/>
<text x="125" y="167.9" font-size="21.2">r2 &gt; 0.5</text>
<circle cx="246.7" cy="160.6" r="4.6" fill="#ff9900"/>
<text x="267" y="167.9" font-size="21.2">|D'| &gt; 0.7</text>
<circle cx="105.8" cy="187.3" r="10" fill="#ff6600"/>
<text x="125" y="194.6" font-size="21.2">r2 &gt; 0.7</text>
<circle cx="246.7" cy="187.3" r="4.6" fill="#ff6600"/>
<text x="267" y="194.6" font-size="21.2">|D'| &gt; 0.8</text>
<circle cx="105.8" cy="214.1" r="10" fill="#ff3300"/>
<text x="125" y="221.4" font-size="21.2">r2 &gt; 0.9</text>
<circle cx="246.7" cy="214.1" r="4.6" fill="#ff3300"/>
<text x="267" y="221.4" font-size="21.2">|D'| &gt; 0.9</text>
<circle cx="704.5" cy="78.3" r="5.7" fill="#000"/>
<text x="721.6" y="84.4" font-size="21.2">Imputed variant</text>
<path d="M700.3 102.7h8.4M704.5 98.5v8.4" stroke="#000" stroke-width="1.6"/>
<text x="721.6" y="109" font-size="21.2">Omni 2.5M variant</text>
<text x="439" y="122.8" font-size="21.2">rs62418762</text>
<g stroke="#d0d0d0" stroke-width="1.6" fill="none">
<line x1="105.6" y1="59.4" x2="105.6" y2="589" stroke-dasharray="3.5 4.15"/>
<line x1="265.2" y1="59.4" x2="265.2" y2="589" stroke-dasharray="3.5 4.15"/>
<line x1="424.9" y1="59.4" x2="424.9" y2="589" stroke-dasharray="3.5 4.15"/>
<line x1="584.6" y1="59.4" x2="584.6" y2="589" stroke-dasharray="3.5 4.15"/>
<line x1="744.2" y1="59.4" x2="744.2" y2="589" stroke-dasharray="3.5 4.15"/>
<line x1="84.54" y1="570.0" x2="894" y2="570.0" stroke-dasharray="3.7 3.96"/>
<line x1="84.54" y1="493.7" x2="894" y2="493.7" stroke-dasharray="3.7 3.96"/>
<line x1="84.54" y1="417.3" x2="894" y2="417.3" stroke-dasharray="3.7 3.96"/>
<line x1="84.54" y1="341.0" x2="894" y2="341.0" stroke-dasharray="3.7 3.96"/>
<line x1="84.54" y1="264.7" x2="894" y2="264.7" stroke-dasharray="3.7 3.96"/>
<line x1="84.54" y1="188.4" x2="894" y2="188.4" stroke-dasharray="3.7 3.96"/>
<line x1="84.54" y1="112.0" x2="894" y2="112.0" stroke-dasharray="3.7 3.96"/>
</g>
<g stroke="#000" stroke-width="1.9" stroke-dasharray="3.3 4.1" fill="none">
<line x1="105.6" y1="55.6" x2="105.6" y2="67"/>
<line x1="265.2" y1="55.6" x2="265.2" y2="67"/>
<line x1="424.9" y1="55.6" x2="424.9" y2="67"/>
<line x1="584.6" y1="55.6" x2="584.6" y2="67"/>
<line x1="744.2" y1="55.6" x2="744.2" y2="67"/>
</g>
<g stroke="#ff0000" stroke-width="2.3" stroke-dasharray="9.5 5.8" stroke-dashoffset="10.3" fill="none">
<line x1="404.6" y1="56" x2="404.6" y2="589"/>
<line x1="578.0" y1="56" x2="578.0" y2="589"/>
</g>
<rect x="85.7" y="54" width="811.5" height="535.9" fill="none" stroke="#000" stroke-width="1.9"/>
<text x="85.2" y="611" font-size="21.2">GTEx v6p</text>
<line x1="86" y1="618.6" x2="897" y2="618.6" stroke="#c8c8c8" stroke-width="1.8"/>
<text x="85.2" y="637.5" font-size="21.2">NHGRI-EBI GWAS Catalog</text>
<line x1="86" y1="644.6" x2="897" y2="644.6" stroke="#c8c8c8" stroke-width="1.8"/>
<g stroke="#d3d3d3" stroke-width="1.6" stroke-dasharray="3.6 4.2" fill="none">
<line x1="105.6" y1="592" x2="105.6" y2="843"/>
<line x1="265.2" y1="592" x2="265.2" y2="843"/>
<line x1="424.9" y1="592" x2="424.9" y2="843"/>
<line x1="584.6" y1="592" x2="584.6" y2="843"/>
<line x1="744.2" y1="592" x2="744.2" y2="843"/>
</g>
<circle cx="364.4" cy="618.8" r="3.1" fill="#bebebe"/>
<circle cx="375.5" cy="618.8" r="3.1" fill="#bebebe"/>
<circle cx="379.5" cy="618.8" r="3.1" fill="#bebebe"/>
<circle cx="383.5" cy="618.8" r="3.1" fill="#bebebe"/>
<circle cx="387.5" cy="618.8" r="3.1" fill="#bebebe"/>
<circle cx="391.5" cy="618.8" r="3.1" fill="#bebebe"/>
<circle cx="395.3" cy="618.8" r="3.1" fill="#bebebe"/>
<circle cx="657.0" cy="618.8" r="3.1" fill="#bebebe"/>
<circle cx="660.6" cy="618.8" r="3.1" fill="#bebebe"/>
<circle cx="664.2" cy="618.8" r="3.1" fill="#bebebe"/>
<circle cx="667.8" cy="618.8" r="3.1" fill="#bebebe"/>
<circle cx="671.4" cy="618.8" r="3.1" fill="#bebebe"/>
<circle cx="675.0" cy="618.8" r="3.1" fill="#bebebe"/>
<circle cx="678.6" cy="618.8" r="3.1" fill="#bebebe"/>
<circle cx="682.2" cy="618.8" r="3.1" fill="#bebebe"/>
<circle cx="685.8" cy="618.8" r="3.1" fill="#bebebe"/>
<circle cx="689.4" cy="618.8" r="3.1" fill="#bebebe"/>
<circle cx="696.0" cy="618.8" r="3.1" fill="#bebebe"/>
<circle cx="708.1" cy="618.8" r="3.1" fill="#bebebe"/>
<circle cx="712.3" cy="618.8" r="3.1" fill="#bebebe"/>
<circle cx="716.5" cy="618.8" r="3.1" fill="#bebebe"/>
<circle cx="731.0" cy="618.8" r="3.1" fill="#bebebe"/>
<circle cx="737.7" cy="618.8" r="3.1" fill="#bebebe"/>
<circle cx="791.9" cy="618.8" r="3.1" fill="#bebebe"/>
<circle cx="91.3" cy="644.6" r="3.1" fill="#bebebe"/>
<circle cx="487.9" cy="644.6" r="3.1" fill="#bebebe"/>
<circle cx="621.3" cy="644.6" r="3.1" fill="#bebebe"/>
<circle cx="652.5" cy="644.6" r="3.1" fill="#bebebe"/>
<circle cx="715.4" cy="644.6" r="3.1" fill="#bebebe"/>
<circle cx="746.7" cy="644.6" r="3.1" fill="#bebebe"/>
<circle cx="542.9" cy="644.6" r="9" fill="#bebebe"/><circle cx="542.9" cy="644.6" r="4.1" fill="#ff9900"/>
<circle cx="695.6" cy="644.6" r="9" fill="#bebebe"/><circle cx="695.6" cy="644.6" r="4.1" fill="#ffff00"/>
<g>
<path d="M269.0 667.8H274.2V678.0" stroke="#0000ff" stroke-width="2" fill="none"/><path d="M269.7 665.8L266.2 667.8L269.7 669.8Z" fill="#0000ff"/>
<text x="283.4" y="678.0" font-size="15.3">RP11-40G16.1</text>
<path d="M249.3 693.4V683.2H254.2" stroke="#0000ff" stroke-width="2" fill="none"/><path d="M253.5 681.2L257.0 683.2L253.5 685.2Z" fill="#0000ff"/>
<text x="257.3" y="693.4" font-size="15.3">RN7SL415P</text>
<path d="M677.2 683.2H681.0V693.4" stroke="#0000ff" stroke-width="2" fill="none"/><path d="M677.9 681.2L674.4 683.2L677.9 685.2Z" fill="#0000ff"/>
<text x="687.2" y="693.4" font-size="15.3">COPS5P1</text>
<path d="M241.2 698.6H245.8V708.8" stroke="#0000ff" stroke-width="2" fill="none"/><path d="M241.9 696.6L238.4 698.6L241.9 700.6Z" fill="#0000ff"/>
<text x="255.7" y="708.8" font-size="15.3">RP3-433F14.1</text>
<path d="M611.6 698.6H616.8V708.8" stroke="#0000ff" stroke-width="2" fill="none"/><path d="M612.3 696.6L608.8 698.6L612.3 700.6Z" fill="#0000ff"/>
<text x="621.0" y="708.8" font-size="15.3">ATF1P1</text>
<path d="M245.4 724.0V713.8H250.2" stroke="#0000ff" stroke-width="2" fill="none"/><path d="M249.5 711.8L253.0 713.8L249.5 715.8Z" fill="#0000ff"/>
<text x="254.6" y="724.0" font-size="15.3">RP3-433F14.2</text>
<path d="M591.3 724.0V713.8H596.2" stroke="#0000ff" stroke-width="2" fill="none"/><path d="M595.5 711.8L599.0 713.8L595.5 715.8Z" fill="#0000ff"/>
<text x="598.9" y="724.0" font-size="15.3">AL589947.1</text>
<path d="M245.4 739.3V729.1H250.2" stroke="#0000ff" stroke-width="2" fill="none"/><path d="M249.5 727.1L253.0 729.1L249.5 731.1Z" fill="#0000ff"/>
<text x="254.6" y="739.3" font-size="15.3">RP3-433F14.4</text>
<path d="M584.8 739.3V729.1H589.5" stroke="#0000ff" stroke-width="2" fill="none"/><path d="M588.8 727.1L592.3 729.1L588.8 731.1Z" fill="#0000ff"/>
<text x="586.8" y="739.3" font-size="15.3">U3</text>
<path d="M558.7 744.6H563.8V754.8" stroke="#0000ff" stroke-width="2" fill="none"/><path d="M559.4 742.6L555.9 744.6L559.4 746.6Z" fill="#0000ff"/>
<text x="573.2" y="754.8" font-size="15.3">RP11-127B16.1</text>
<path d="M179.8 770.1V759.9H184.5" stroke="#0000ff" stroke-width="2" fill="none"/><path d="M183.8 757.9L187.3 759.9L183.8 761.9Z" fill="#0000ff"/>
<text x="185.5" y="770.1" font-size="15.3">MIR4643</text>
<path d="M452.2 759.9H457.3V770.1" stroke="#0000ff" stroke-width="2" fill="none"/><path d="M452.9 757.9L449.4 759.9L452.9 761.9Z" fill="#0000ff"/>
<text x="465.2" y="770.1" font-size="15.3">RP1-149C7.1</text>
<path d="M134.0 775.4H139.2V785.6" stroke="#0000ff" stroke-width="2" fill="none"/><path d="M134.7 773.4L131.2 775.4L134.7 777.4Z" fill="#0000ff"/>
<text x="148.0" y="785.6" font-size="15.3">RP1-177I10.1</text>
<path d="M336.7 785.6V775.4H341.9" stroke="#0000ff" stroke-width="2" fill="none"/><path d="M341.2 773.4L344.7 775.4L341.2 777.4Z" fill="#0000ff"/>
<text x="343.2" y="785.6" font-size="15.3">RPL5P19</text>
<path d="M537.8 785.6V775.4H542.9" stroke="#0000ff" stroke-width="2" fill="none"/><path d="M542.2 773.4L545.7 775.4L542.2 777.4Z" fill="#0000ff"/>
<text x="545.6" y="785.6" font-size="15.3">AL359987.1</text>
<path d="M214.3 746.8V754.3M214.3 750.3H222.4M233.5 744.6V754.8M228.5 744.6H233.5M227 750.3H234" stroke="#0000ff" stroke-width="2" fill="none"/>
<rect x="231.3" y="744.5" width="3.6" height="10.5" fill="#0000ff"/>
<path d="M230 742.5L226.5 744.6L230 746.6Z" fill="#0000ff"/>
<text x="238" y="754.8" font-size="15.3">CASC6</text>
<path d="M674.2 770.1V759.9H679.5M674.2 765.5H682.3M684.7 762.6V769.6" stroke="#0000ff" stroke-width="2" fill="none"/>
<path d="M679 757.9L682.5 759.9L679 761.9Z" fill="#0000ff"/>
<text x="692.7" y="770.1" font-size="15.3">RP1-23E21.2</text>
<path d="M729 781.4H784M765.6 777.6V784.8M729 777.6V784.8" stroke="#0000ff" stroke-width="2" fill="none"/>
<rect x="731.5" y="777.3" width="8" height="7.6" fill="#0000ff"/>
<rect x="782.6" y="775.0" width="3.4" height="10.6" fill="#0000ff"/>
<path d="M780 775.0H784" stroke="#0000ff" stroke-width="2"/>
<path d="M781.5 773.0L778 775.0L781.5 777.0Z" fill="#0000ff"/>
<text x="789.8" y="785.6" font-size="15.3">EPHA7</text>
</g>
<path d="M72.9 792.7H85.6V844.8H72.9M72.9 818.6H85.6" stroke="#000" stroke-width="1.9" fill="none"/>
<text x="59.6" y="801.5" font-size="24.5" text-anchor="end">100</text>
<text x="59.6" y="827.2" font-size="24.5" text-anchor="end">50</text>
<text x="59.6" y="853.8" font-size="24.5" text-anchor="end">0</text>
<path d="M85.6 844.8H105" stroke="#000" stroke-width="1.5"/>
<path d="M105 845.0H744.5" stroke="#000" stroke-width="3.4"/>
<path d="M744.5 844.7H897" stroke="#000" stroke-width="1.7"/>
<path d="M110.9 844.0V823.5M136.3 844.0V833.9M143.2 844.0V841.4M166.4 844.0V838.2M173.1 844.0V834.2M199.8 844.0V842.0M214.5 844.0V838.7M216.9 844.0V832.3M231.3 844.0V838.2M247.0 844.0V832.0M311.9 844.0V835.0M343.4 844.0V831.5M345.3 844.0V830.0M369.3 844.0V835.0M394.1 844.0V838.7M412.8 844.0V839.2M436.0 844.0V840.0M457.4 844.0V841.0M471.5 844.0V841.5M483.3 844.0V838.2M515.4 844.0V841.5M542.6 844.0V840.0M561.0 844.0V834.7M579.4 844.0V839.5M590.9 844.0V839.0M605.3 844.0V839.0M628.5 844.0V836.8M647.5 844.0V812.8M655.5 844.0V829.9M657.6 844.0V830.0M664.1 844.0V834.2M688.1 844.0V826.7M695.6 844.0V841.0M706.8 844.0V837.4M715.6 844.0V840.0" stroke="#000" stroke-width="2.2" fill="none"/>
<path d="M744.9 843.5V830.7M767.6 843.5V835.5M781.0 843.5V828.8M809.8 843.5V841.0M849.0 843.5V811.2M889.1 843.5V841.0" stroke="#000" stroke-width="2" fill="none"/>
<path d="M257.8 844.0V841.6M342.0 844.0V841.5M505.2 844.0V842.8M114.4 844.0V840.9M271.5 844.0V842.4M741.2 844.0V841.8M639.7 844.0V841.8M513.7 844.0V842.6M511.0 844.0V840.8M439.8 844.0V841.1M534.4 844.0V842.8M589.8 844.0V841.5M298.2 844.0V842.9M658.2 844.0V841.8M564.6 844.0V840.8M561.6 844.0V840.7M358.0 844.0V841.0M389.7 844.0V840.7M666.7 844.0V842.8M192.7 844.0V842.5M722.0 844.0V841.9M505.8 844.0V842.2M429.6 844.0V842.0M329.9 844.0V841.5M478.8 844.0V840.7M541.1 844.0V840.7M652.4 844.0V840.5M534.3 844.0V842.6M655.1 844.0V840.6M683.2 844.0V841.6M561.4 844.0V842.5M636.6 844.0V841.6M287.8 844.0V842.8M650.8 844.0V840.5M162.5 844.0V841.0M367.9 844.0V842.6M293.5 844.0V841.1M662.8 844.0V842.9M498.1 844.0V842.9M564.4 844.0V842.2M668.0 844.0V840.5M428.5 844.0V840.5M303.6 844.0V842.8M488.6 844.0V842.9M231.9 844.0V842.0M495.5 844.0V842.6M133.1 844.0V840.8M306.2 844.0V840.6M678.1 844.0V842.1M399.7 844.0V841.7M516.8 844.0V841.5M462.8 844.0V841.4M706.1 844.0V841.7M381.1 844.0V841.2M257.6 844.0V842.2M729.8 844.0V841.7M455.9 844.0V843.0M370.9 844.0V841.6M118.8 844.0V841.5M509.3 844.0V842.8M506.2 844.0V841.8M539.4 844.0V842.1M557.0 844.0V841.2M120.2 844.0V842.8M537.3 844.0V840.6M266.2 844.0V841.9M484.1 844.0V842.2M338.2 844.0V842.2M341.5 844.0V841.5M297.7 844.0V842.1M598.7 844.0V842.9M469.2 844.0V841.2M303.8 844.0V842.4M618.8 844.0V842.4M225.6 844.0V841.9M551.4 844.0V842.7M311.4 844.0V842.2M637.8 844.0V841.9M651.8 844.0V842.6M320.8 844.0V841.4M670.6 844.0V841.9M249.6 844.0V842.7M443.9 844.0V842.5M620.7 844.0V840.9M223.1 844.0V842.3M621.0 844.0V841.4M620.4 844.0V842.1M188.7 844.0V842.3M612.5 844.0V842.3M327.0 844.0V842.0M373.8 844.0V842.0M693.4 844.0V842.6M109.0 844.0V840.6M667.4 844.0V840.5M383.1 844.0V840.6M697.7 844.0V842.4M581.6 844.0V840.9M529.0 844.0V841.7M290.4 844.0V842.1M251.1 844.0V842.8M481.6 844.0V842.3M622.9 844.0V842.9M682.5 844.0V841.3M695.4 844.0V840.8M680.0 844.0V841.6M114.4 844.0V841.1M215.6 844.0V842.3M528.9 844.0V841.7M370.0 844.0V840.7M496.6 844.0V842.1M267.1 844.0V840.8M410.5 844.0V841.0M330.5 844.0V842.5M447.1 844.0V841.0M215.3 844.0V841.0M694.1 844.0V841.0M631.4 844.0V843.0M507.1 844.0V840.8M137.9 844.0V842.3M277.4 844.0V841.7" stroke="#000" stroke-width="1.3" fill="none"/>
<path d="M105.6 845.0V859.2M265.2 845.0V859.2M424.9 845.0V859.2M584.6 845.0V859.2M744.2 845.0V859.2" stroke="#000" stroke-width="1.9" fill="none"/>
<text x="106.1" y="889.6" font-size="25.1" text-anchor="middle">92.00 Mb</text>
<text x="265.8" y="889.6" font-size="25.1" text-anchor="middle">92.50 Mb</text>
<text x="425.4" y="889.6" font-size="25.1" text-anchor="middle">93.00 Mb</text>
<text x="585.1" y="889.6" font-size="25.1" text-anchor="middle">93.50 Mb</text>
<text x="744.7" y="889.6" font-size="25.1" text-anchor="middle">94.00 Mb</text>
<text x="492" y="929.8" font-size="25.2" text-anchor="middle">Position on chromosome 6</text>
<text x="941" y="31.3" font-size="40" font-weight="bold">b</text>
<text x="1234.6" y="66.2" font-size="25.4" text-anchor="middle">rs62418762</text>
<text x="1234.4" y="95.4" font-size="25.4" text-anchor="middle">chr6:93,218,698, 'C' allele</text>
<text x="1010.6" y="163.4" font-size="25.4" text-anchor="middle">Discovery</text>
<text x="1010.2" y="193.1" font-size="25.4" text-anchor="middle">(<tspan font-style="italic">N</tspan> = 16,390)</text>
<path d="M1114.6 131.9H1103V203.9H1114.6M1103 168.1H1091.6" stroke="#c0c0c0" stroke-width="2.1" fill="none"/>
<line x1="1193.2" y1="125.5" x2="1193.2" y2="211.4" stroke="#c0c0c0" stroke-width="2" stroke-dasharray="7.5 5.5"/>
<line x1="1236.6" y1="125.5" x2="1236.6" y2="211.4" stroke="#c0c0c0" stroke-width="2" stroke-dasharray="7.5 5.5"/>
<line x1="1323.0" y1="125.5" x2="1323.0" y2="211.4" stroke="#c0c0c0" stroke-width="2" stroke-dasharray="7.5 5.5"/>
<line x1="1279.8" y1="125.5" x2="1279.8" y2="211.4" stroke="#000" stroke-width="2" stroke-dasharray="7.5 5.5"/>
<text x="1125" y="141.1" font-size="16.4" fill="#8b3a2b" style="fill:#8b3a2b">CM</text>
<line x1="1167.2" y1="135.5" x2="1223.3" y2="135.5" stroke="#808080" stroke-width="1.7"/>
<circle cx="1195.3" cy="135.5" r="6.6" fill="#8b3a2b"/>
<text x="1125" y="173.7" font-size="16.4" fill="#0f4d92" style="fill:#0f4d92">SMA</text>
<line x1="1184.3" y1="168.1" x2="1261.2" y2="168.1" stroke="#808080" stroke-width="1.7"/>
<circle cx="1222.6" cy="168.1" r="6.6" fill="#0f4d92"/>
<text x="1125" y="206.3" font-size="16.4" fill="#6b8e3a" style="fill:#6b8e3a">OTHER</text>
<line x1="1245.5" y1="200.7" x2="1293.7" y2="200.7" stroke="#808080" stroke-width="1.7"/>
<circle cx="1269.4" cy="200.7" r="6.6" fill="#6b8e3a"/>
<path d="M1337.3 132.0H1348.9V204.1H1337.3M1348.9 168.1H1359.9" stroke="#c0c0c0" stroke-width="2.1" fill="none"/>
<text x="1374" y="162.3" font-size="25.4" font-style="italic">P = 2.7e–09</text>
<text x="1374" y="192.4" font-size="25.4" font-style="italic">(multinomial)</text>
<text x="1010.6" y="294.3" font-size="25.4" text-anchor="middle">Replication</text>
<text x="1010.2" y="324.0" font-size="25.4" text-anchor="middle">(<tspan font-style="italic">N</tspan> = 14,990)</text>
<path d="M1114.6 262.8H1103V334.8H1114.6M1103 299.0H1091.6" stroke="#c0c0c0" stroke-width="2.1" fill="none"/>
<line x1="1193.2" y1="256.4" x2="1193.2" y2="342.3" stroke="#c0c0c0" stroke-width="2" stroke-dasharray="7.5 5.5"/>
<line x1="1236.6" y1="256.4" x2="1236.6" y2="342.3" stroke="#c0c0c0" stroke-width="2" stroke-dasharray="7.5 5.5"/>
<line x1="1323.0" y1="256.4" x2="1323.0" y2="342.3" stroke="#c0c0c0" stroke-width="2" stroke-dasharray="7.5 5.5"/>
<line x1="1279.8" y1="256.4" x2="1279.8" y2="342.3" stroke="#000" stroke-width="2" stroke-dasharray="7.5 5.5"/>
<text x="1125" y="272.0" font-size="16.4" fill="#8b3a2b" style="fill:#8b3a2b">CM</text>
<line x1="1189.4" y1="266.4" x2="1268.0" y2="266.4" stroke="#808080" stroke-width="1.7"/>
<circle cx="1228.7" cy="266.4" r="6.6" fill="#8b3a2b"/>
<text x="1125" y="304.6" font-size="16.4" fill="#0f4d92" style="fill:#0f4d92">SMA</text>
<line x1="1222.7" y1="299.0" x2="1306.9" y2="299.0" stroke="#808080" stroke-width="1.7"/>
<circle cx="1264.8" cy="299.0" r="6.6" fill="#0f4d92"/>
<text x="1125" y="337.2" font-size="16.4" fill="#6b8e3a" style="fill:#6b8e3a">OTHER</text>
<line x1="1270.8" y1="331.6" x2="1327.0" y2="331.6" stroke="#808080" stroke-width="1.7"/>
<circle cx="1298.5" cy="331.6" r="6.6" fill="#6b8e3a"/>
<path d="M1337.3 262.9H1348.9V302.2H1337.3M1348.9 282.5H1359.9" stroke="#c0c0c0" stroke-width="2.1" fill="none"/>
<text x="1374" y="277.3" font-size="25.4" font-style="italic">P = 0.010</text>
<text x="1374" y="308.2" font-size="25.4" font-style="italic">(–ve quadrant)</text>
<text x="1010.6" y="425.0" font-size="25.4" text-anchor="middle">Combined</text>
<text x="1010.2" y="454.7" font-size="25.4" text-anchor="middle">(<tspan font-style="italic">N</tspan> = 31,380)</text>
<path d="M1114.6 393.5H1103V465.5H1114.6M1103 429.7H1091.6" stroke="#c0c0c0" stroke-width="2.1" fill="none"/>
<line x1="1193.2" y1="387.1" x2="1193.2" y2="473.0" stroke="#c0c0c0" stroke-width="2" stroke-dasharray="7.5 5.5"/>
<line x1="1236.6" y1="387.1" x2="1236.6" y2="473.0" stroke="#c0c0c0" stroke-width="2" stroke-dasharray="7.5 5.5"/>
<line x1="1323.0" y1="387.1" x2="1323.0" y2="473.0" stroke="#c0c0c0" stroke-width="2" stroke-dasharray="7.5 5.5"/>
<line x1="1279.8" y1="387.1" x2="1279.8" y2="473.0" stroke="#000" stroke-width="2" stroke-dasharray="7.5 5.5"/>
<text x="1125" y="402.7" font-size="16.4" fill="#8b3a2b" style="fill:#8b3a2b">CM</text>
<line x1="1185.4" y1="397.1" x2="1230.7" y2="397.1" stroke="#808080" stroke-width="1.7"/>
<circle cx="1207.9" cy="397.1" r="6.6" fill="#8b3a2b"/>
<text x="1125" y="435.3" font-size="16.4" fill="#0f4d92" style="fill:#0f4d92">SMA</text>
<line x1="1213.5" y1="429.7" x2="1270.4" y2="429.7" stroke="#808080" stroke-width="1.7"/>
<circle cx="1241.6" cy="429.7" r="6.6" fill="#0f4d92"/>
<text x="1125" y="467.9" font-size="16.4" fill="#6b8e3a" style="fill:#6b8e3a">OTHER</text>
<line x1="1264.0" y1="462.3" x2="1300.1" y2="462.3" stroke="#808080" stroke-width="1.7"/>
<circle cx="1282.1" cy="462.3" r="6.6" fill="#6b8e3a"/>
<path d="M1337.3 393.6H1348.9V466.6H1337.3M1348.9 429.7H1359.9" stroke="#c0c0c0" stroke-width="2.1" fill="none"/>
<text x="1374" y="425.3" font-size="25.4" font-style="italic">P = 1.7e–10</text>
<text x="1374" y="454.5" font-size="25.4" font-style="italic">(multinomial)</text>
<path d="M1192.6 505.9V493.4H1323V505.9M1236.7 493.4V505.9M1279.8 493.4V505.9" stroke="#000" stroke-width="1.9" fill="none"/>
<text x="1192.6" y="536.7" font-size="25.4" text-anchor="middle">2/3</text>
<text x="1279.8" y="536.7" font-size="25.4" text-anchor="middle">1</text>
<text x="1279.8" y="575.6" font-size="25.4" text-anchor="middle">Odds ratio</text>
<text x="989.6" y="640.5" font-size="42" font-weight="bold">c</text>
<g stroke="#d3d3d3" stroke-width="1.6" stroke-dasharray="3.6 4.2" fill="none">
<line x1="1107" y1="831.0" x2="1507" y2="831.0"/>
<line x1="1107" y1="789.7" x2="1507" y2="789.7"/>
<line x1="1107" y1="748.4" x2="1507" y2="748.4"/>
<line x1="1107" y1="707.1" x2="1507" y2="707.1"/>
<line x1="1107" y1="665.8" x2="1507" y2="665.8"/>
<line x1="1107" y1="872.3" x2="1507" y2="872.3"/>
<line x1="1160.1" y1="656.5" x2="1160.1" y2="881"/>
<line x1="1257.7" y1="656.5" x2="1257.7" y2="881"/>
<line x1="1355.3" y1="656.5" x2="1355.3" y2="881"/>
<line x1="1452.9" y1="656.5" x2="1452.9" y2="881"/>
</g>
<path d="M1105.6 665.8V831.0M1093 831.0H1105.6M1093 789.7H1105.6M1093 748.4H1105.6M1093 707.1H1105.6M1093 665.8H1105.6" stroke="#000" stroke-width="1.9" fill="none"/>
<text x="1081.8" y="840.1" font-size="26" text-anchor="end">50</text>
<text x="1081.8" y="798.8" font-size="26" text-anchor="end">100</text>
<text x="1081.8" y="757.5" font-size="26" text-anchor="end">150</text>
<text x="1081.8" y="716.2" font-size="26" text-anchor="end">200</text>
<text x="1081.8" y="674.9" font-size="26" text-anchor="end">250</text>
<text transform="translate(1021,746.5) rotate(-90)" font-size="25.4" text-anchor="middle"># simulations/10<tspan font-size="17" dy="-10">6</tspan></text>
<path d="M1125.30 872.3V757.5H1130.34V872.3M1130.34 872.3V659.7H1135.38V872.3M1135.38 872.3V753.9H1140.42V872.3M1140.42 872.3V811.9H1145.46V872.3M1145.46 872.3V839.8H1150.50V872.3M1150.50 872.3V853.5H1155.54V872.3M1155.54 872.3V860.5H1160.58V872.3M1160.58 872.3V864.2H1165.62V872.3M1165.62 872.3V866.6H1170.66V872.3M1170.66 872.3V868.6H1175.70V872.3M1175.70 872.3V869.8H1180.74V872.3M1180.74 872.3V870.6H1185.78V872.3M1185.78 872.3V871.2H1190.82V872.3M1190.82 872.3V871.6H1195.86V872.3M1195.86 872.3V871.8H1200.90V872.3M1200.90 872.3V872.0H1205.94V872.3M1205.94 872.3V872.1H1210.98V872.3M1210.98 872.3V872.1H1216.02V872.3M1216.02 872.3V872.2H1221.06V872.3M1221.06 872.3V872.2H1226.10V872.3" stroke="#000" stroke-width="1.7" fill="none"/>
<line x1="1107" y1="872.3" x2="1492.5" y2="872.3" stroke="#000" stroke-width="1.9" stroke-dasharray="4.2 3.2"/>
<path d="M1208.9 880.7H1452.9M1208.9 880.7V893.3M1257.7 880.7V893.3M1306.5 880.7V893.3M1355.3 880.7V893.3M1404.1 880.7V893.3M1452.9 880.7V893.3" stroke="#000" stroke-width="1.9" fill="none"/>
<text x="1208.9" y="923.5" font-size="25.4" text-anchor="middle">1</text>
<text x="1257.7" y="923.5" font-size="25.4" text-anchor="middle">2</text>
<text x="1306.5" y="923.5" font-size="25.4" text-anchor="middle">3</text>
<text x="1355.3" y="923.5" font-size="25.4" text-anchor="middle">4</text>
<text x="1404.1" y="923.5" font-size="25.4" text-anchor="middle">5</text>
<text x="1452.9" y="923.5" font-size="25.4" text-anchor="middle">6</text>
<text x="1229" y="963.5" font-size="25.4">Log<tspan font-size="17.5" dy="8">10</tspan><tspan dy="-8">BF</tspan><tspan font-size="17.5" dy="8">avg</tspan></text>
<line x1="1439.6" y1="650.2" x2="1439.6" y2="880.5" stroke="#ff0000" stroke-width="2"/>
<text x="1239" y="834.6" font-size="20.8" style="fill:#ff0000">Observed log<tspan font-size="14.3" dy="8.4">10</tspan><tspan dy="-8.4"> BF</tspan><tspan font-size="14.3" dy="8.4">avg</tspan></text>
<text x="1162" y="690.9" font-size="20.8">BF<tspan font-size="14.3" dy="8">avg</tspan><tspan dy="-8">simulated null</tspan></text>
<text x="1162" y="722.4" font-size="20.8">P<tspan font-size="14.3" dy="8.5">empirical</tspan><tspan dy="-8.5"> = 7e–09</tspan></text>
<text x="1163.5" y="750.3" font-size="20.8">(5/7.1 × 10<tspan font-size="14.3" dy="-7.5">8</tspan><tspan dy="7.5">)</tspan></text>
</svg></body></html>
